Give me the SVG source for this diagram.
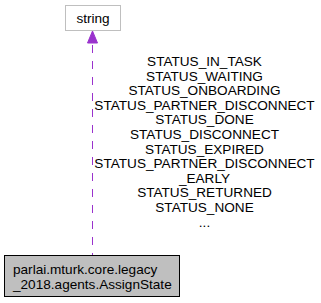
<svg xmlns="http://www.w3.org/2000/svg" width="321" height="303" viewBox="0 0 321 303">
  <style>
    text { font-family: "Liberation Sans", Arial, Helvetica, sans-serif; font-size: 13.6px; fill: #000000; }
    .lbl { text-anchor: middle; }
    .edge { stroke: #9a32cd; stroke-width: 1; fill: none; stroke-dasharray: 8,8; }
    .head { fill: #9a32cd; stroke: #9a32cd; stroke-width: 1; }
  </style>
  <rect width="321" height="303" fill="#ffffff"/>

  <!-- connectors -->
  <g id="edges">
    <g id="edge_assignstate_string">
      <path class="edge" d="M92.5,45 V255"/>
      <polygon class="head" points="92.5,31 87.5,43 97.5,43"/>
      <g id="edge_label">
        <text class="lbl" x="204.5" y="66">STATUS_IN_TASK</text>
        <text class="lbl" x="204.5" y="80.6">STATUS_WAITING</text>
        <text class="lbl" x="204.5" y="95.2">STATUS_ONBOARDING</text>
        <text class="lbl" x="204.5" y="109.8">STATUS_PARTNER_DISCONNECT</text>
        <text class="lbl" x="204.5" y="124.4">STATUS_DONE</text>
        <text class="lbl" x="204.5" y="139">STATUS_DISCONNECT</text>
        <text class="lbl" x="204.5" y="153.6">STATUS_EXPIRED</text>
        <text class="lbl" x="204.5" y="168.2">STATUS_PARTNER_DISCONNECT</text>
        <text class="lbl" x="204.5" y="182.8">_EARLY</text>
        <text class="lbl" x="204.5" y="197.4">STATUS_RETURNED</text>
        <text class="lbl" x="204.5" y="212">STATUS_NONE</text>
        <text class="lbl" x="204.5" y="226.6">...</text>
      </g>
    </g>
  </g>

  <!-- nodes -->
  <g id="node_string">
    <rect x="65.5" y="5.5" width="55" height="25" fill="#ffffff" stroke="#bfbfbf" stroke-width="1"/>
    <text class="lbl" x="93" y="22.5">string</text>
  </g>

  <g id="node_assignstate">
    <rect x="4.5" y="255.5" width="175" height="41" fill="#bfbfbf" stroke="#000000" stroke-width="1"/>
    <text x="13" y="274">parlai.mturk.core.legacy</text>
    <text x="13" y="288.7">_2018.agents.AssignState</text>
  </g>
</svg>
